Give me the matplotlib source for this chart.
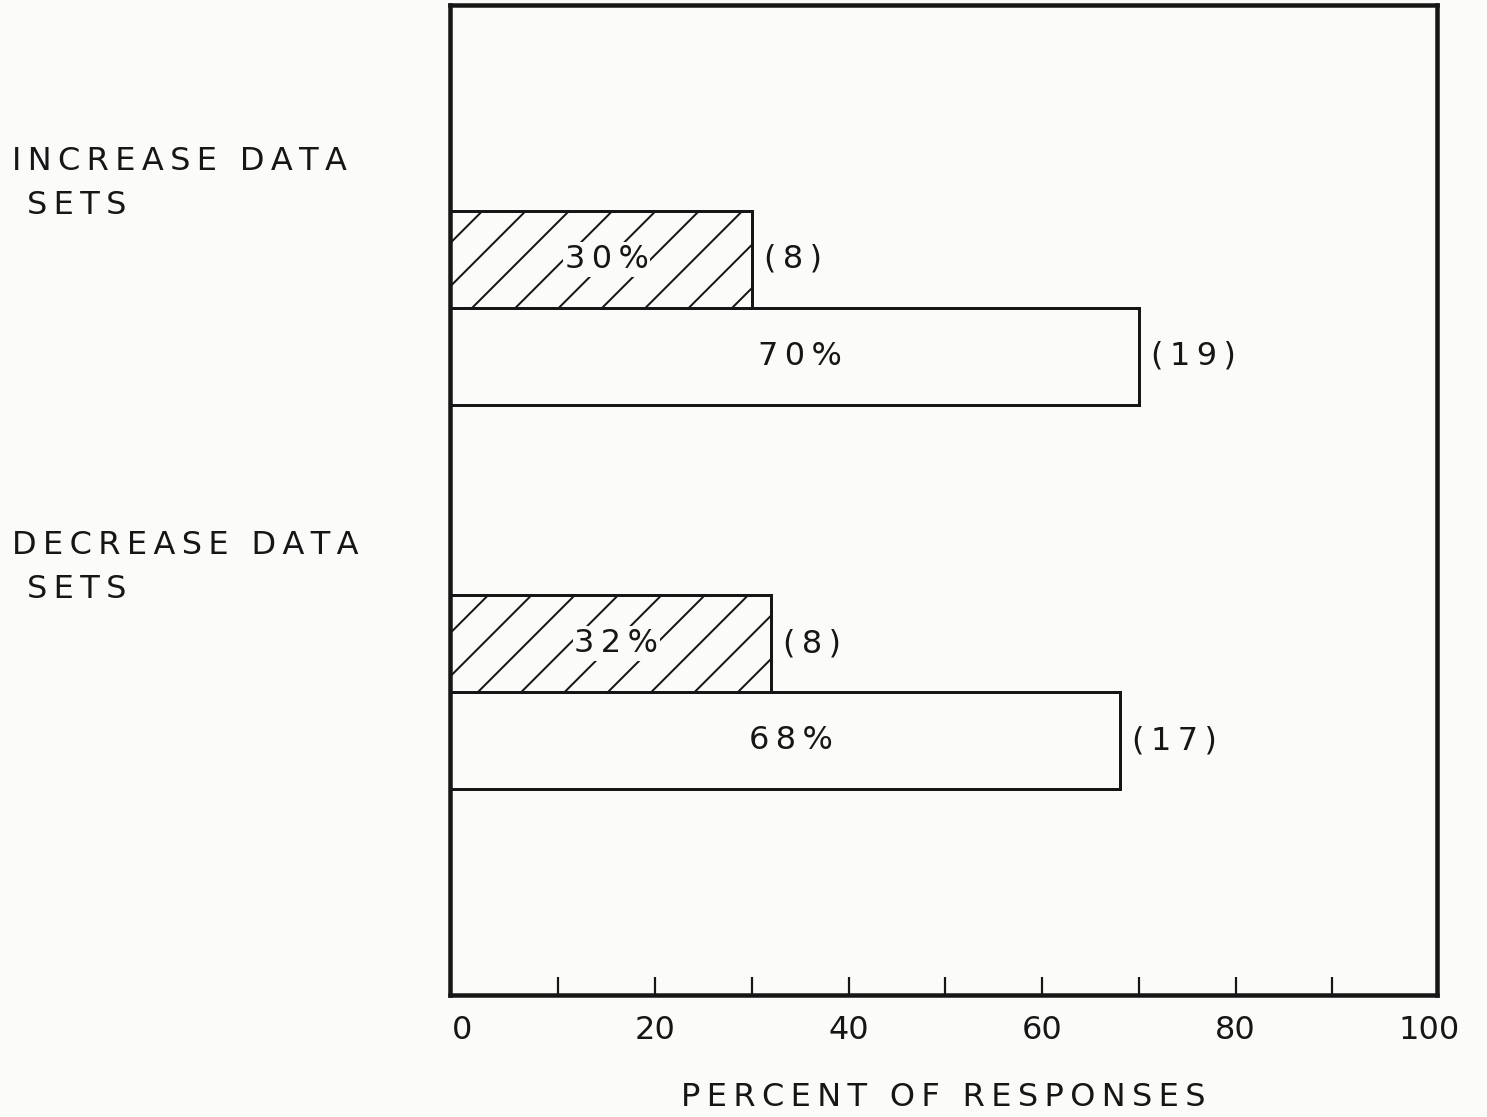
import matplotlib
matplotlib.use("Agg")
import matplotlib.pyplot as plt
import matplotlib.transforms as mtransforms

# ---- data ----
categories = ["INCREASE DATA\nSETS", "DECREASE DATA\nSETS"]
cat_pos = [1, 0]
hatched_pct = [30, 32]
hatched_n = [8, 8]
open_pct = [70, 68]
open_n = [19, 17]
tick_labels = ["0", "20", "40", "60", "80", "100"]
xlabel = "PERCENT OF RESPONSES"

BG = "#fbfbf9"
INK = "#161616"
DPI = 130
W, H = 1487, 1117


def pt(px):
    return px * 72.0 / DPI


FS = pt(32)


def spaced(s):
    return "\n".join("\u2009".join(line) for line in s.split("\n"))


plt.rcParams["font.family"] = ["DejaVu Sans"]
plt.rcParams["hatch.linewidth"] = pt(2.0)
plt.rcParams["hatch.color"] = INK

fig = plt.figure(figsize=(W / DPI, H / DPI), dpi=DPI, facecolor=BG)
ax = fig.add_axes([450 / W, 1 - 995 / H, (1437 - 450) / W, (995 - 5) / H])
ax.set_facecolor(BG)

x0, x1 = -1.2, 100.8
ax.set_xlim(x0, x1)
ax.set_ylim(-0.789, 1.789)

h = 0.2526
for y, hp, hn, op, on in zip(cat_pos, hatched_pct, hatched_n, open_pct, open_n):
    ax.barh(y + h / 2, hp - x0, left=x0, height=h, facecolor=BG, edgecolor=INK,
            hatch="/", linewidth=pt(3.0))
    ax.barh(y - h / 2, op - x0, left=x0, height=h, facecolor=BG, edgecolor=INK,
            linewidth=pt(3.0))
    ax.text(hp / 2, y + h / 2, spaced(f"{hp}%"), ha="center", va="center",
            fontsize=FS, color=INK,
            bbox=dict(boxstyle="square,pad=0.05", fc=BG, ec="none"))
    ax.text(op / 2, y - h / 2, spaced(f"{op}%"), ha="center", va="center",
            fontsize=FS, color=INK)
    ax.annotate(spaced(f"({hn})"), (hp, y + h / 2), xytext=(pt(12), 0),
                textcoords="offset points", ha="left", va="center",
                fontsize=FS, color=INK)
    ax.annotate(spaced(f"({on})"), (op, y - h / 2), xytext=(pt(12), 0),
                textcoords="offset points", ha="left", va="center",
                fontsize=FS, color=INK)

# category labels to the left
trans = mtransforms.blended_transform_factory(fig.transFigure, ax.transData)
for y, c in zip(cat_pos, categories):
    first, second = c.split("\n")
    ax.text(12 / W, y + 0.382, spaced(first), transform=trans, ha="left",
            va="center", fontsize=FS, color=INK)
    ax.text(27 / W, y + 0.266, spaced(second), transform=trans, ha="left",
            va="center", fontsize=FS, color=INK)

# ticks
ax.set_xticks(list(range(10, 100, 10)))
ax.set_xticklabels([])
ax.tick_params(axis="x", which="major", direction="in", length=pt(18),
               width=pt(2.2), color=INK)
ax.set_xticks([int(t) for t in tick_labels], minor=True)
ax.xaxis.remove_overlapping_locs = False
ax.set_xticklabels(tick_labels, minor=True)
ax.tick_params(axis="x", which="minor", length=0, pad=pt(20), labelsize=FS,
               labelcolor=INK)
ax.set_yticks([])

for s in ax.spines.values():
    s.set_linewidth(pt(4.5))
    s.set_color(INK)

ax.set_xlabel(spaced(xlabel), fontsize=FS, color=INK, labelpad=pt(36))

fig.savefig("out.png", dpi=DPI, facecolor=BG)
